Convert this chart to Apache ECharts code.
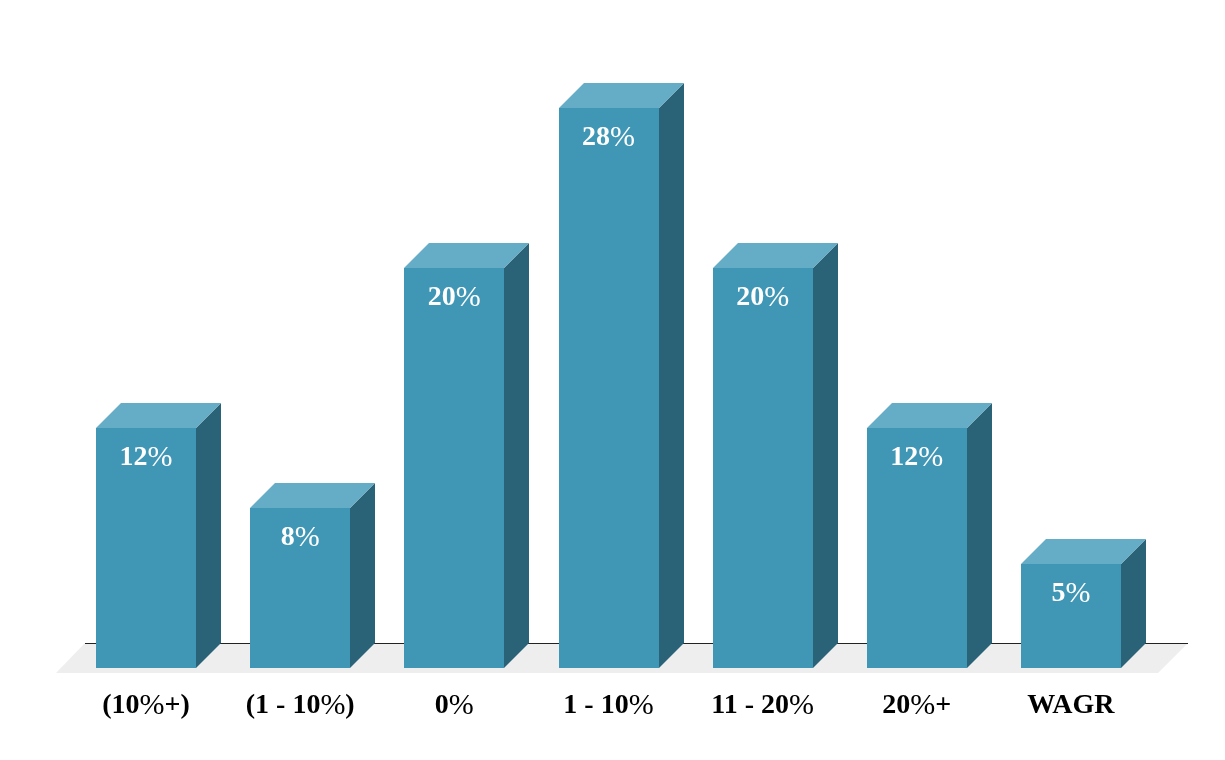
<!DOCTYPE html>
<html>
<head>
<meta charset="utf-8">
<style>html,body{margin:0;padding:0;background:#fff}#c{width:1225px;height:760px}</style>
<script src="https://cdn.jsdelivr.net/npm/echarts@6/dist/echarts.min.js"></script>
</head>
<body>
<div id="c"></div>
<script>
const categories = ['(10%+)', '(1 - 10%)', '0%', '1 - 10%', '11 - 20%', '20%+', 'WAGR'];
const values = [12, 8, 20, 28, 20, 12, 5.2];
const valueLabels = ['12%', '8%', '20%', '28%', '20%', '12%', '5%'];

const FONT = '"Liberation Serif", "Times New Roman", serif';
const DEPTH = 25;
const FRONT = '#3F96B5', TOP = '#65ACC6', SIDE = '#2A6277';

const chart = echarts.init(document.getElementById('c'), null, {renderer: 'canvas'});

function richText(s) {
  return s.split('%').map(p => p ? '{b|' + p + '}' : '').join('{p|%}');
}
function richStyles(color) {
  return {
    b: {fontFamily: FONT, fontWeight: 'bold', fontSize: 28, lineHeight: 32, fill: color, color: color},
    p: {fontFamily: FONT, fontWeight: 'normal', fontSize: 30, lineHeight: 32, fill: color, color: color}
  };
}

function renderFloor(params, api) {
  const cs = params.coordSys;
  const bottom = cs.y + cs.height;
  const left = cs.x, right = cs.x + cs.width;
  return {
    type: 'group',
    children: [
      {type: 'polygon', shape: {points: [[left - 13, bottom + 5], [left + 16, bottom - DEPTH], [right + 40, bottom - DEPTH], [right + 10, bottom + 5]]},
        style: {fill: '#EEEEEE'}},
      {type: 'line', shape: {x1: left + 16, y1: bottom - DEPTH + 0.5, x2: right + 40, y2: bottom - DEPTH + 0.5},
        style: {stroke: '#222222', lineWidth: 1}}
    ]
  };
}

function renderBar(params, api) {
  const idx = api.value(0);
  const top = api.coord([idx, api.value(1)]);
  const base = api.coord([idx, 0]);
  const w = api.size([1, 0])[0] * 0.6485;
  const x0 = Math.round(top[0] - w / 2), x1 = x0 + 100;
  const y0 = top[1], y1 = base[1];
  return {
    type: 'group',
    children: [
      {type: 'polygon', shape: {points: [[x1, y0], [x1 + DEPTH, y0 - DEPTH], [x1 + DEPTH, y1 - DEPTH], [x1, y1]]}, style: {fill: SIDE}},
      {type: 'polygon', shape: {points: [[x0, y0], [x0 + DEPTH, y0 - DEPTH], [x1 + DEPTH, y0 - DEPTH], [x1, y0]]}, style: {fill: TOP}},
      {type: 'rect', shape: {x: x0, y: y0, width: x1 - x0, height: y1 - y0}, style: {fill: FRONT}},
      {type: 'text', x: top[0], y: y0 + 30, style: {
        text: richText(valueLabels[params.dataIndex]), rich: richStyles('#fff'), fill: '#fff', align: 'center', verticalAlign: 'middle'
      }}
    ]
  };
}

chart.setOption({
  animation: false,
  backgroundColor: '#fff',
  grid: {left: 69, top: 68, width: 1079, height: 600, containLabel: false},
  xAxis: {
    type: 'category', data: categories,
    axisLine: {show: false}, axisTick: {show: false}, splitLine: {show: false},
    axisLabel: {interval: 0, margin: 22, color: '#000', formatter: richText, rich: richStyles('#000')}
  },
  yAxis: {type: 'value', min: 0, max: 30, interval: 10, show: false},
  series: [
    {type: 'custom', renderItem: renderFloor, data: [[0, 0]], clip: false, silent: true, z: 1, encode: {x: 0, y: 1}},
    {type: 'custom', renderItem: renderBar, data: values.map((v, i) => [i, v]), clip: false, silent: true, z: 2, encode: {x: 0, y: 1}}
  ]
});
</script>
</body>
</html>
